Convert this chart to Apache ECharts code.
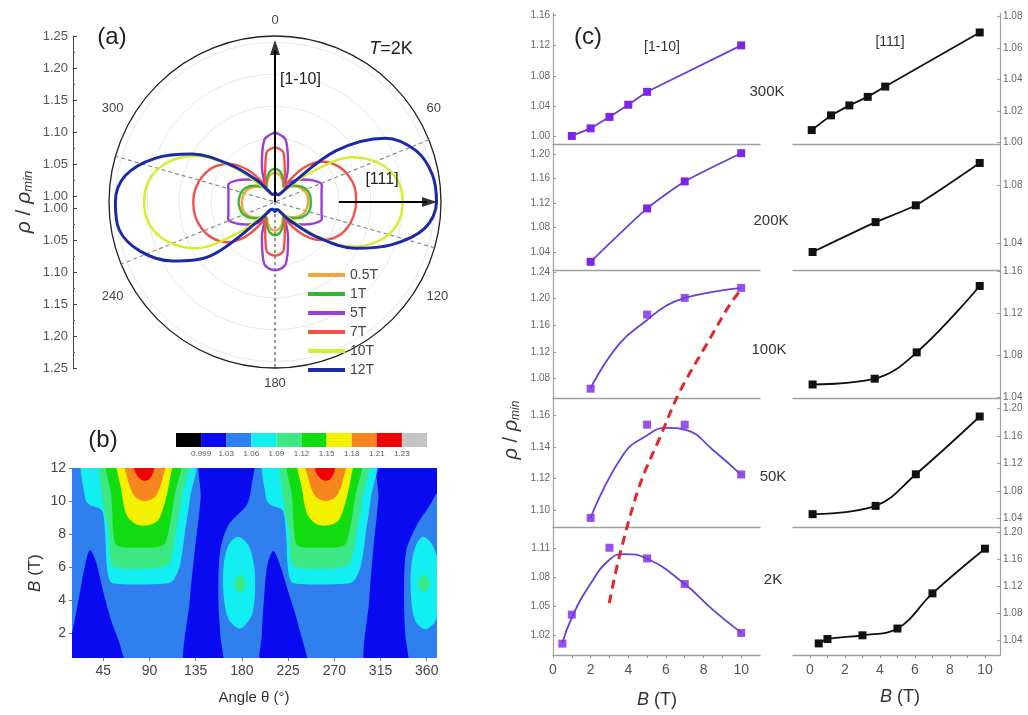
<!DOCTYPE html>
<html><head><meta charset="utf-8">
<script src="https://cdn.jsdelivr.net/npm/echarts@6.0.0/dist/echarts.min.js"></script>
<style>html,body{margin:0;padding:0;background:#fff}#c{width:1028px;height:715px}</style>
</head><body><div id="c"></div>
<script>
// ---------- Panel (a): polar rho/rho_min vs angle at T=2K ----------
const POLAR_ANGLES = [0,10,20,30,40,50,60,70,80,90,100,110,120,130,140,150,160,170,180,190,200,210,220,230,240,250,260,270,280,290,300,310,320,330,340,350,360];
const FIELD_NAMES = ['0.5T','1T','5T','7T','10T','12T'];
const FIELD_COLORS = ['#f5a53c','#35b535','#9b3fd6','#f0514b','#d4ee2a','#1c2aa8'];
const RHO_05T = [1.036,1.033,1.025,1.017,1.02,1.028,1.035,1.04,1.042,1.042,1.041,1.039,1.034,1.027,1.02,1.016,1.024,1.032,1.035,1.032,1.024,1.017,1.021,1.028,1.035,1.04,1.042,1.042,1.041,1.039,1.034,1.027,1.02,1.016,1.025,1.033,1.036];
const RHO_1T = [1.043,1.038,1.028,1.018,1.022,1.03,1.038,1.044,1.046,1.046,1.046,1.044,1.038,1.03,1.022,1.018,1.028,1.038,1.042,1.038,1.028,1.018,1.022,1.03,1.038,1.044,1.046,1.047,1.046,1.044,1.038,1.03,1.022,1.018,1.028,1.038,1.043];
const RHO_5T = [1.099,1.088,1.05,1.02,1.033,1.045,1.058,1.068,1.064,1.063,1.064,1.068,1.058,1.045,1.033,1.02,1.05,1.088,1.097,1.088,1.05,1.02,1.033,1.045,1.058,1.068,1.064,1.063,1.064,1.068,1.058,1.045,1.033,1.02,1.05,1.088,1.099];
const RHO_7T = [1.076,1.068,1.035,1.018,1.06,1.088,1.103,1.112,1.117,1.117,1.115,1.11,1.1,1.083,1.055,1.02,1.035,1.067,1.074,1.067,1.035,1.02,1.06,1.088,1.103,1.112,1.117,1.118,1.116,1.11,1.1,1.083,1.055,1.02,1.035,1.068,1.076];
const RHO_10T = [1.003,1.002,1.002,1.004,1.012,1.06,1.13,1.165,1.185,1.19,1.185,1.165,1.13,1.07,1.02,1.006,1.002,1.002,1.003,1.002,1.002,1.004,1.015,1.065,1.135,1.17,1.19,1.195,1.19,1.17,1.135,1.075,1.022,1.006,1.002,1.002,1.003];
const RHO_12T = [1.005,1.003,1.002,1.004,1.02,1.115,1.19,1.225,1.24,1.243,1.228,1.185,1.135,1.075,1.03,1.01,1.003,1.002,1.005,1.003,1.002,1.004,1.025,1.12,1.175,1.215,1.238,1.24,1.228,1.19,1.14,1.08,1.035,1.01,1.003,1.002,1.005];
const FIELD_RHO = [RHO_05T,RHO_1T,RHO_5T,RHO_7T,RHO_10T,RHO_12T];
const GUIDE_ANGLES = [68,106];
const ARROW_110 = [[0.99,0],[1.228,0]];
const ARROW_111 = [[1.09,90],[1.228,90]];
const ARROW_HEADS = [[1.232,0,0],[1.232,90,-90]];

// ---------- Panel (b): contour map rho(theta,B) ----------
const LEVEL_COLORS = ['#000000','#0a0af0','#2f7fee','#12eef2','#3ce883','#10dc10','#f2f200','#f6851e','#f00000','#c4c4c4'];
const CB_LABELS = ['0.999','1.03','1.06','1.09','1.12','1.15','1.18','1.21','1.23'];
const HEAT_X_TICKS = [45,90,135,180,225,270,315,360];
const HEAT_Y_TICKS = [2,4,6,8,10,12];
const HEAT_BG = [[0,-1],[380,-1],[380,13],[0,13]];
const DARK_TRI_1 = [[32.0,7.03],[37.9,6.32],[45,4.5],[53.1,2.69],[61.3,1.27],[67,-1],[5,-1],[5,1.4],[12.55,1.68],[17.4,2.89],[22.3,4.5],[27.2,6.12]];
const DARK_BAND_1 = [[140.8,12.8],[139.8,10.16],[134.3,7.13],[129.4,4.1],[124.6,-0.5],[160.3,-0.5],[158.7,2.08],[157.0,4.1],[158.7,6.93],[166.8,8.54],[184.6,9.76],[189.5,10.97],[190.5,12.8]];
const DARK_TRI_2 = [[210.6,6.97],[217.1,6.12],[225.2,4.5],[235,2.48],[243.1,-0.5],[199.3,-0.5],[199.6,2.08],[201.5,4.1],[204.8,6.12]];
const DARK_BAND_2 = [[313.9,12.8],[312.9,10.16],[308,7.13],[304.1,4.1],[300.9,-0.5],[340.5,-0.5],[338.9,2.08],[337.9,4.1],[339.9,6.93],[350.3,8.54],[363.2,9.76],[369,10.4],[376,10.8],[376,12.8]];
const CYAN_U_1 = [[27.2,12.8],[27.2,10.16],[32.0,9.76],[43.4,9.45],[46.6,8.14],[48.3,6.12],[50.9,5.21],[54.8,5.01],[77.5,4.95],[106.7,5.01],[113.2,5.21],[119.7,6.12],[124.6,8.14],[129.4,10.16],[133.3,12.8]];
const MINT_U_1 = [[45.0,12.8],[45.0,9.76],[49.9,8.14],[51.5,6.52],[55.4,6.02],[77.5,5.88],[105.1,6.02],[110,6.32],[115.8,8.14],[121.3,10.16],[126.2,12.8]];
const GREEN_U_1 = [[49.9,12.8],[53.1,10.16],[54.8,8.14],[58.0,7.33],[77.5,7.17],[103.5,7.33],[108.3,8.14],[113.9,10.16],[119.1,12.8]];
const YELLOW_U_1 = [[59.6,12.8],[62.9,10.56],[67.7,9.15],[77.5,8.58],[88.9,8.54],[98.6,8.85],[105.1,9.96],[110,11.37],[111.6,12.8]];
const ORANGE_U_1 = [[66.1,12.8],[69.4,11.17],[75.9,10.26],[85.6,10.0],[95.4,10.26],[101.9,11.17],[105.1,12.8]];
const RED_U_1 = [[74.2,12.8],[75.9,11.78],[82.4,11.27],[88.9,11.27],[93.7,11.78],[95.4,12.8]];
const CYAN_U_2 = [[203.5,12.8],[203.5,10.16],[208.5,9.76],[219.5,9.45],[222.8,8.14],[224.5,6.12],[227,5.21],[231,5.01],[254,4.95],[283,5.01],[289.5,5.21],[296,6.12],[300.8,8.14],[305.5,10.16],[309.5,12.8]];
const MINT_U_2 = [[221,12.8],[221,9.76],[226,8.14],[227.5,6.52],[231.5,6.02],[254,5.88],[281,6.02],[286,6.32],[292,8.14],[297.5,10.16],[302.5,12.8]];
const GREEN_U_2 = [[226,12.8],[229,10.16],[231,8.14],[234,7.33],[254,7.17],[279.5,7.33],[284.5,8.14],[290,10.16],[295,12.8]];
const YELLOW_U_2 = [[235.5,12.8],[239,10.56],[244,9.15],[253.5,8.58],[265,8.54],[274.5,8.85],[281,9.96],[286,11.37],[287.5,12.8]];
const ORANGE_U_2 = [[242,12.8],[245.5,11.17],[252,10.26],[261.5,10.0],[271.5,10.26],[278,11.17],[281,12.8]];
const RED_U_2 = [[250,12.8],[252,11.78],[258.5,11.27],[265,11.27],[270,11.78],[271.5,12.8]];
const CYAN_ISLAND_1 = [[176.5,7.84],[186.3,7.33],[191.8,6.12],[192.8,4.5],[189.5,3.09],[178.2,2.28],[166.8,2.89],[161.9,4.5],[162.6,6.32],[167.8,7.43]];
const MINT_DOT_1 = [[178,5.55],[182,5.3],[183.5,5.0],[182,4.7],[178,4.45],[174,4.7],[172.5,5.0],[174,5.3]];
const CYAN_ISLAND_2 = [[356.7,7.84],[365.8,7.33],[371.4,6.12],[372,3.7],[368.1,2.69],[358.4,2.24],[348.6,2.79],[344.4,4.5],[345.4,6.32],[350.3,7.43]];
const MINT_DOT_2 = [[357,5.55],[361,5.3],[362.5,5.0],[361,4.7],[357,4.45],[353,4.7],[351.5,5.0],[353,5.3]];
const HEAT_LAYERS = [
  [2,HEAT_BG],[1,DARK_TRI_1],[1,DARK_BAND_1],[1,DARK_TRI_2],[1,DARK_BAND_2],
  [3,CYAN_U_1],[4,MINT_U_1],[5,GREEN_U_1],[6,YELLOW_U_1],[7,ORANGE_U_1],[8,RED_U_1],
  [3,CYAN_U_2],[4,MINT_U_2],[5,GREEN_U_2],[6,YELLOW_U_2],[7,ORANGE_U_2],[8,RED_U_2],
  [3,CYAN_ISLAND_1],[4,MINT_DOT_1],[3,CYAN_ISLAND_2],[4,MINT_DOT_2]
];

// ---------- Panel (c): rho/rho_min vs B ----------
const TEMPS = ['300K','200K','100K','50K','2K'];
// [1-10] column
const B300L = [1,2,3,4,5,10];      const R300L = [1.001,1.011,1.026,1.042,1.059,1.120];
const B200L = [2,5,7,10];          const R200L = [1.024,1.111,1.155,1.201];
const B100L = [2,5,7,10];          const R100L = [1.065,1.176,1.201,1.216];
const B50L  = [2,5,7,10];          const R50L  = [1.095,1.154,1.154,1.1225];
const B2L   = [0.5,1,3,5,7,10];    const R2L   = [1.011,1.041,1.110,1.099,1.0725,1.022];
const FIT100L_B = [2,3.49,5,6.06,7,8.5,10];        const FIT100L_R = [1.066,1.131,1.168,1.19,1.201,1.21,1.216];
const FIT50L_B  = [2,3.73,4.97,6.03,7.09,8.5,10];  const FIT50L_R  = [1.095,1.135,1.147,1.152,1.1505,1.138,1.1222];
const FIT2L_B   = [0.5,1,1.96,3,3.8,5,7,8.5,10];   const FIT2L_R   = [1.0114,1.038,1.0717,1.0976,1.1034,1.0986,1.0725,1.0459,1.0224];
// [111] column
const B300R = [0.1,1.2,2.25,3.3,4.3,9.7];  const R300R = [1.008,1.0173,1.0236,1.029,1.0355,1.0697];
const B200R = [0.15,3.75,6.05,9.7];         const R200R = [1.034,1.0545,1.066,1.095];
const B100R = [0.15,3.7,6.1,9.7];           const R100R = [1.0525,1.058,1.083,1.146];
const B50R  = [0.15,3.75,6.05,9.7];         const R50R  = [1.046,1.058,1.104,1.188];
const B2R   = [0.5,1,3,5,7,10];             const R2R   = [1.035,1.0415,1.047,1.057,1.109,1.175];
// axis ranges / ticks of the stacked panels
const L_MIN = [0.9904,1.0095,1.0506,1.0888,0.9993];
const L_MAX = [1.1626,1.216,1.2418,1.1707,1.1307];
const L_TICKS = [[1.00,1.04,1.08,1.12,1.16],[1.04,1.08,1.12,1.16,1.20],[1.08,1.12,1.16,1.20,1.24],[1.10,1.12,1.14,1.16],[1.02,1.05,1.08,1.11]];
const R_MIN = [0.9992,1.0212,1.0394,1.0263,1.0179];
const R_MAX = [1.082,1.108,1.1605,1.2145,1.206];
const R_TICKS = [[1.00,1.02,1.04,1.06,1.08],[1.04,1.08],[1.04,1.08,1.12,1.16],[1.04,1.08,1.12,1.16,1.20],[1.04,1.08,1.12,1.16,1.20]];
const B_TICKS = [0,2,4,6,8,10];
const B_MINOR = [0,1,2,3,4,5,6,7,8,9,10];
// red dashed guide through the maxima: [panel(0=300K..4=2K), B, rho]
const DASH_PTS = [[4,2.99,1.0528],[4,3.55,1.1028],[3,4.61,1.1158],[3,5.67,1.1455],[2,6.73,1.0603],[2,8.15,1.1309],[2,9.38,1.1903],[2,9.95,1.2121]];

// ---------- layout ----------
const FONT = 'Liberation Sans, Arial, sans-serif';
const C_TOPS = [13,144,270.7,398.3,527.7];
const C_BOTS = [144,270.7,398.3,527.7,655];
const zip = (a,b) => a.map((v,i)=>[v,b[i]]);

const grid = [], xAxis = [], yAxis = [], series = [];

// (a) left scale (two halves)
[[36,false],[208,true]].forEach(([top,inv],k)=>{
  grid.push({left:73, top:top, width:1, height:160});
  xAxis.push({gridIndex:k, type:'value', show:false});
  yAxis.push({gridIndex:k, type:'value', min:1.00, max:1.25, interval:0.05, inverse:inv,
    axisLine:{show:true, lineStyle:{color:'#444', width:1}},
    axisTick:{show:true, inside:true, length:4, lineStyle:{color:'#444'}},
    minorTick:{show:true, splitNumber:2, length:2, lineStyle:{color:'#666'}},
    axisLabel:{formatter:v=>v.toFixed(2), fontSize:13, color:'#555', fontFamily:FONT, margin:5},
    splitLine:{show:false}});
});
// (b) heat map
grid.push({left:72, top:468, width:365, height:190});
xAxis.push({gridIndex:2, type:'value', min:14.5, max:370,
  axisLine:{show:false}, splitLine:{show:false},
  axisTick:{show:true, customValues:HEAT_X_TICKS, length:3, lineStyle:{color:'#777'}},
  axisLabel:{customValues:HEAT_X_TICKS, fontSize:14, color:'#444', fontFamily:FONT, margin:6}});
yAxis.push({gridIndex:2, type:'value', min:0.5, max:12,
  axisLine:{show:false}, splitLine:{show:false},
  axisTick:{show:true, customValues:HEAT_Y_TICKS, length:3, lineStyle:{color:'#777'}},
  axisLabel:{customValues:HEAT_Y_TICKS, fontSize:14, color:'#444', fontFamily:FONT, margin:6}});
// (b) colour bar
grid.push({left:176, top:433, width:251, height:14});
xAxis.push({gridIndex:3, type:'value', min:0, max:10, axisLine:{show:false}, axisTick:{show:false}, splitLine:{show:false},
  axisLabel:{customValues:[1,2,3,4,5,6,7,8,9], formatter:v=>CB_LABELS[Math.round(v)-1], fontSize:8, color:'#555', fontFamily:FONT, margin:3}});
yAxis.push({gridIndex:3, type:'value', min:0, max:1, show:false});

// (c) stacked panels
for (let side=0; side<2; side++){
  for (let k=0;k<5;k++){
    const gi = grid.length;
    const bottom = (k===4);
    grid.push({left: side===0?553:793, top:C_TOPS[k], width:207, height:C_BOTS[k]-C_TOPS[k]});
    xAxis.push({gridIndex:gi, type:'value', min: side===0?0:-0.97, max: side===0?11:10.86,
      axisLine:{show:true, onZero:false, lineStyle:{color:'#a0a0a0', width:1.4}},
      axisTick:{show:bottom, customValues:B_MINOR, length:3, lineStyle:{color:'#999'}},
      axisLabel:{show:bottom, customValues:B_TICKS, fontSize:14, color:'#555', fontFamily:FONT, margin:8},
      splitLine:{show:false}});
    const ticks = side===0?L_TICKS[k]:R_TICKS[k];
    yAxis.push({gridIndex:gi, type:'value', position: side===0?'left':'right',
      min: side===0?L_MIN[k]:R_MIN[k], max: side===0?L_MAX[k]:R_MAX[k],
      axisLine:{show:true, onZero:false, lineStyle:{color:'#a0a0a0', width:1.2}},
      axisTick:{show:true, inside:true, customValues:ticks, length:3, lineStyle:{color:'#999'}},
      axisLabel:{customValues:ticks, formatter:v=>v.toFixed(2), fontSize:10, color:'#666', fontFamily:FONT, margin:3},
      splitLine:{show:false}});
  }
}
const LG = k => 4+k, RG = k => 9+k;

// ---------- series: (a) ----------
GUIDE_ANGLES.forEach(a=>{
  series.push({type:'line', coordinateSystem:'polar', silent:true, symbol:'none', z:1,
    data:[[1.25,a],[0.99,a],[0.99,a+180],[1.25,a+180]],
    lineStyle:{color:'#8a8a8a', width:1.2, type:[4,3]}});
});
series.push({type:'line', coordinateSystem:'polar', silent:true, symbol:'none', z:1,
  data:[[0.99,180],[1.25,180]], lineStyle:{color:'#333', width:1, type:[3,3]}});
FIELD_NAMES.forEach((n,i)=>{
  series.push({type:'line', name:n, coordinateSystem:'polar', symbol:'none', smooth:0.35, z:3,
    data: zip(FIELD_RHO[i], POLAR_ANGLES),
    lineStyle:{color:FIELD_COLORS[i], width: i===5?3:2.4}, itemStyle:{color:FIELD_COLORS[i]}});
});
[ARROW_110, ARROW_111].forEach(d=>{
  series.push({type:'line', coordinateSystem:'polar', symbol:'none', silent:true, z:5, data:d, lineStyle:{color:'#000', width:2}});
});
series.push({type:'scatter', coordinateSystem:'polar', silent:true, z:6, symbol:'triangle',
  data: ARROW_HEADS.map(h=>({value:[h[0],h[1]], symbolRotate:h[2]})), symbolSize:[10,15], itemStyle:{color:'#000'}});

// ---------- series: (b) ----------
series.push({type:'custom', xAxisIndex:2, yAxisIndex:2, silent:true, clip:true,
  data: HEAT_LAYERS.map(L=>{const p=L[1]; return [p.reduce((s,q)=>s+q[0],0)/p.length, p.reduce((s,q)=>s+q[1],0)/p.length];}),
  renderItem:(params, api)=>{
    const L = HEAT_LAYERS[params.dataIndex];
    const pts = L[1].map(p=>api.coord(p));
    const cs = params.coordSys;
    return {type:'group', clipPath:{type:'rect', shape:{x:cs.x, y:cs.y, width:cs.width, height:cs.height}},
      children:[{type:'polygon', shape:{points:pts, smooth:0.3}, style:{fill:LEVEL_COLORS[L[0]], stroke:null}}]};
  }});
series.push({type:'custom', xAxisIndex:3, yAxisIndex:3, silent:true,
  data: LEVEL_COLORS.map((c,i)=>[i+0.5,0.5]),
  renderItem:(params, api)=>{
    const i = params.dataIndex;
    const p0 = api.coord([i,1]), p1 = api.coord([i+1,0]);
    return {type:'rect', shape:{x:p0[0], y:p0[1], width:p1[0]-p0[0], height:p1[1]-p0[1]}, style:{fill:LEVEL_COLORS[i]}};
  }});

// ---------- series: (c) ----------
const PUR_LINE = '#6a3ed6', PUR_SQ = '#7f24ea', BLK = '#111';
function connected(g, bs, rs, lc, sc, smooth){
  series.push({type:'line', xAxisIndex:g, yAxisIndex:g, data:zip(bs,rs), symbol:'rect', symbolSize:8, smooth:smooth||false,
    lineStyle:{color:lc, width:1.8}, itemStyle:{color:sc}});
}
function fitted(g, fb, fr, bs, rs, lc, sc){
  series.push({type:'line', xAxisIndex:g, yAxisIndex:g, data:zip(fb,fr), symbol:'none', smooth:0.5, lineStyle:{color:lc, width:1.8}});
  series.push({type:'scatter', xAxisIndex:g, yAxisIndex:g, data:zip(bs,rs), symbol:'rect', symbolSize:8, itemStyle:{color:sc}});
}
connected(LG(0), B300L, R300L, PUR_LINE, PUR_SQ);
connected(LG(1), B200L, R200L, PUR_LINE, PUR_SQ, 0.2);
fitted(LG(2), FIT100L_B, FIT100L_R, B100L, R100L, PUR_LINE, PUR_SQ);
fitted(LG(3), FIT50L_B, FIT50L_R, B50L, R50L, PUR_LINE, PUR_SQ);
fitted(LG(4), FIT2L_B, FIT2L_R, B2L, R2L, PUR_LINE, PUR_SQ);
connected(RG(0), B300R, R300R, BLK, BLK);
connected(RG(1), B200R, R200R, BLK, BLK, 0.2);
connected(RG(2), B100R, R100R, BLK, BLK, 0.4);
connected(RG(3), B50R, R50R, BLK, BLK, 0.4);
connected(RG(4), B2R, R2R, BLK, BLK, 0.4);

// ---------- text ----------
function txt(x,y,text,size,opts){
  opts = opts||{};
  return {type:'text', x:x, y:y, rotation:opts.rot||0, z:50, silent:true,
    style:{text:text, fill:opts.color||'#222', font:(opts.italic?'italic ':'')+size+'px '+FONT,
      align:opts.align||'center', verticalAlign:'middle', textAlign:opts.align||'center', textVerticalAlign:'middle',
      rich:{i:{fontStyle:'italic', fontSize:size, fontFamily:FONT, fill:opts.color||'#222'},
            s:{fontStyle:'italic', fontSize:Math.round(size*0.62), fontFamily:FONT, fill:opts.color||'#222', verticalAlign:'bottom', padding:[Math.round(size*0.45),0,0,0]},
            n:{fontSize:size, fontFamily:FONT, fill:opts.color||'#222'}}}};
}
const graphics = [
  {type:'line', silent:true, shape:{x1:73.5,y1:196,x2:73.5,y2:208}, style:{stroke:'#444', lineWidth:1}},
  txt(112,37,'(a)',24),
  txt(391,49,'{i|T}{n|=2K}',18),
  txt(280,80,'[1-10]',16,{align:'left'}),
  txt(382,180,'[111]',16),
  txt(24,202,'{i|ρ}{n| / }{i|ρ}{s|min}',21,{rot:Math.PI/2, color:'#333'}),
  txt(103,440,'(b)',24),
  txt(35,573,'{i|B}{n| (T)}',17,{rot:Math.PI/2, color:'#333'}),
  txt(254,698,'Angle θ (°)',15,{color:'#333'}),
  txt(588,37,'(c)',24),
  txt(662,47,'[1-10]',14,{color:'#333'}),
  txt(890,42,'[111]',14,{color:'#333'}),
  txt(511,430,'{i|ρ}{n| / }{i|ρ}{s|min}',20,{rot:Math.PI/2, color:'#333'}),
  txt(657,700,'{i|B}{n| (T)}',18,{color:'#333'}),
  txt(900,697,'{i|B}{n| (T)}',18,{color:'#333'}),
  txt(767,92,TEMPS[0],15,{color:'#333'}),
  txt(771,221,TEMPS[1],15,{color:'#333'}),
  txt(769,350,TEMPS[2],15,{color:'#333'}),
  txt(773,477,TEMPS[3],15,{color:'#333'}),
  txt(773,580,TEMPS[4],15,{color:'#333'})
];

const option = {
  animation:false,
  backgroundColor:'#fff',
  textStyle:{fontFamily:FONT},
  polar:{center:[275,202], radius:166},
  angleAxis:{type:'value', min:0, max:360, interval:60, startAngle:90, clockwise:true,
    axisLine:{show:true, lineStyle:{color:'#222', width:1.3}}, axisTick:{show:false}, splitLine:{show:false},
    axisLabel:{formatter:v=> v===360?'':String(v), fontSize:13, color:'#444', margin:9}},
  radiusAxis:{type:'value', min:0.99, max:1.25, interval:0.05,
    axisLine:{show:false}, axisTick:{show:false}, axisLabel:{show:false},
    splitLine:{show:true, lineStyle:{color:'#e8e8e8', width:1}}},
  legend:{data:FIELD_NAMES, orient:'vertical', left:303, top:263, itemWidth:37, itemHeight:4, itemGap:5, icon:'rect',
    selectedMode:false, textStyle:{fontSize:14, color:'#444', lineHeight:14, fontFamily:FONT}},
  grid:grid, xAxis:xAxis, yAxis:yAxis, series:series, graphic:graphics
};
const chart = echarts.init(document.getElementById('c'), null, {renderer:'canvas'});
chart.setOption(option);
const dashPix = DASH_PTS.map(p=>chart.convertToPixel({gridIndex:LG(p[0])},[p[1],p[2]]));
chart.setOption({graphic: graphics.concat([{type:'polyline', silent:true, z:40, shape:{points:dashPix, smooth:0.35},
  style:{stroke:'#e3262d', lineWidth:3, lineDash:[9,6], fill:null}}])});
</script></body></html>
